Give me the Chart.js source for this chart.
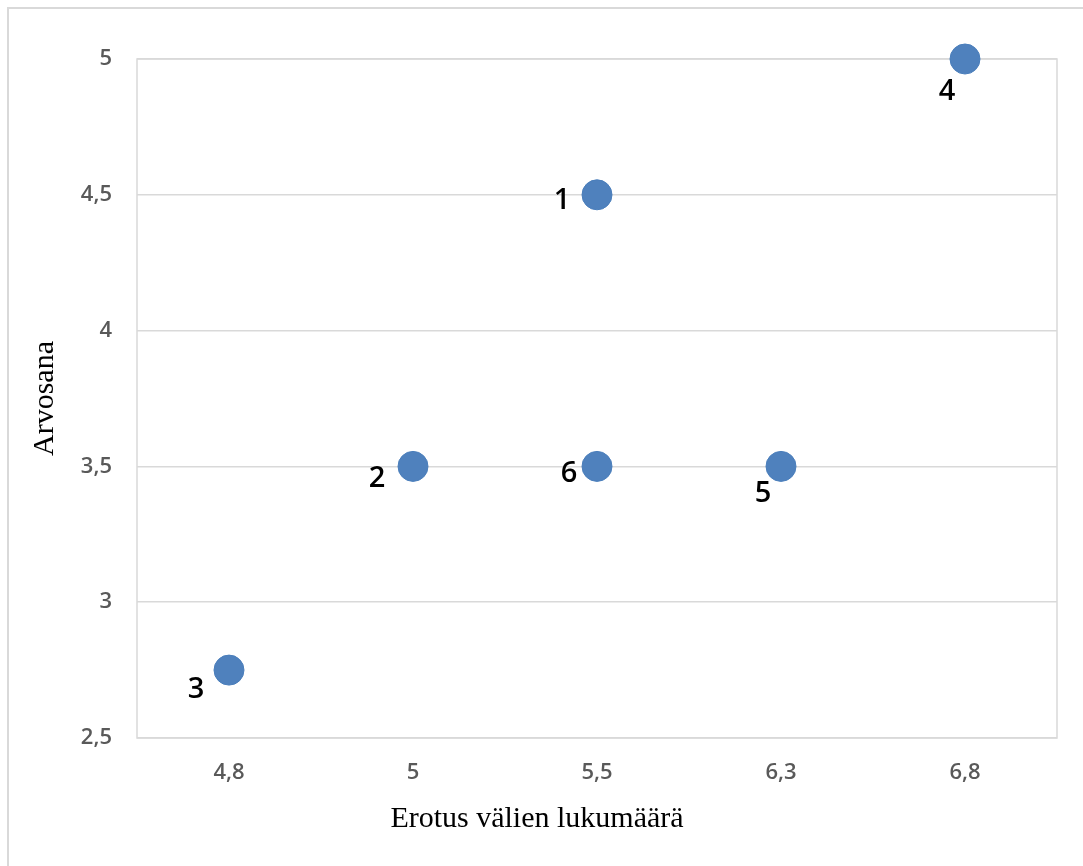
<!DOCTYPE html>
<html>
<head>
<meta charset="utf-8">
<script src="https://cdn.jsdelivr.net/npm/chart.js@4/dist/chart.umd.min.js"></script>
<style>
  html, body { margin: 0; padding: 0; background: #ffffff; }
  #wrap { width: 1083px; height: 866px; position: relative; }
</style>
</head>
<body>
<div id="wrap"><canvas id="scoreChart"></canvas></div>
<script>
// x categories (interval counts) and the y range of the grade axis
const categories = ["4,8", "5", "5,5", "6,3", "6,8"];
const yMin = 2.5;
const yMax = 5;
const yStep = 0.5;

// one entry per student: category, grade, and the number shown beside the marker
const pointCategory = ["5,5", "5", "4,8", "6,8", "6,3", "5,5"];
const pointScore = [4.5, 3.5, 2.75, 5, 3.5, 3.5];
const pointLabel = ["1", "2", "3", "4", "5", "6"];

// where each number sits relative to its marker
const labelOffsets = [[-35, 6], [-36, 12], [-33, 20], [-18, 33], [-18, 27], [-28, 7]];

const gridColor = "#d9d9d9";
const tickColor = "#595959";
const markerColor = "#4f81bd";

const points = pointCategory.map((c, i) => ({ x: c, y: pointScore[i] }));

const frame = {
  id: "frame",
  beforeDraw(chart) {
    const { ctx, chartArea } = chart;
    ctx.save();
    ctx.strokeStyle = gridColor;
    ctx.lineWidth = 2;
    // outer chart frame (runs off the right and bottom edges)
    ctx.strokeRect(8, 8, 2000, 2000);
    ctx.lineWidth = 1.5;
    ctx.strokeRect(chartArea.left, chartArea.top, chartArea.right - chartArea.left, chartArea.bottom - chartArea.top);
    ctx.restore();
  },
  afterDraw(chart) {
    const { ctx } = chart;
    ctx.save();
    ctx.fillStyle = "#000000";
    ctx.font = "30px 'Liberation Serif'";
    ctx.textAlign = "center";
    ctx.textBaseline = "middle";
    ctx.fillText("Erotus välien lukumäärä", 537, 819);
    ctx.restore();
  }
};

const pointNumbers = {
  id: "pointNumbers",
  afterDatasetsDraw(chart) {
    const { ctx } = chart;
    const meta = chart.getDatasetMeta(0);
    ctx.save();
    ctx.fillStyle = "#000000";
    ctx.font = "600 29px 'Open Sans'";
    ctx.textAlign = "center";
    ctx.textBaseline = "middle";
    meta.data.forEach((el, i) => {
      const [dx, dy] = labelOffsets[i];
      ctx.fillText(pointLabel[i], el.x + dx, el.y + dy);
    });
    ctx.restore();
  }
};

new Chart(document.getElementById("scoreChart"), {
  type: "line",
  data: {
    labels: categories,
    datasets: [{
      data: points,
      showLine: false,
      clip: false,
      pointRadius: 15,
      pointHoverRadius: 15,
      pointBackgroundColor: markerColor,
      pointBorderColor: "#4a7ebb",
      pointBorderWidth: 1
    }]
  },
  options: {
    responsive: true,
    maintainAspectRatio: false,
    animation: false,
    events: [],
    layout: { padding: { top: 59, right: 26, left: 0, bottom: 0 } },
    plugins: {
      legend: { display: false },
      tooltip: { enabled: false }
    },
    scales: {
      x: {
        type: "category",
        offset: true,
        grid: { display: false, drawTicks: false },
        border: { display: false },
        ticks: {
          color: tickColor,
          font: { family: "Open Sans", size: 22, weight: "600" },
          padding: 22,
          maxRotation: 0
        },
        afterFit(scale) { scale.height = 128; }
      },
      y: {
        min: yMin,
        max: yMax,
        grid: { color: gridColor, lineWidth: 1.5, drawTicks: false },
        border: { display: false },
        ticks: {
          stepSize: yStep,
          color: tickColor,
          font: { family: "Open Sans", size: 22, weight: "600" },
          padding: 25,
          callback: (v) => String(v).replace(".", ",")
        },
        title: {
          display: true,
          text: "Arvosana",
          color: "#000000",
          font: { family: "Liberation Serif", size: 30 },
          padding: { top: 27, bottom: 0 }
        },
        afterFit(scale) { scale.width = 137; }
      }
    }
  },
  plugins: [frame, pointNumbers]
});
</script>
</body>
</html>
